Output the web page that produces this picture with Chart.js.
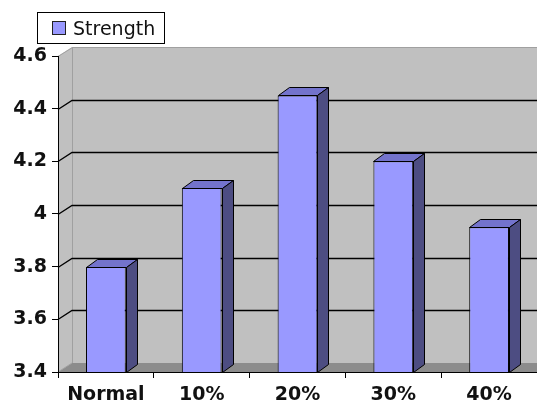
<!DOCTYPE html>
<html>
<head>
<meta charset="utf-8">
<script src="https://cdn.jsdelivr.net/npm/chart.js@4/dist/chart.umd.min.js"></script>
<style>
  html, body { margin: 0; padding: 0; background: #fff; overflow: hidden; }
  #wrap { width: 537px; height: 410px; }
</style>
</head>
<body>
<div id="wrap"><canvas id="c" width="537" height="410"></canvas></div>
<script>
// Strength by mix proportion
const categories = ['Normal', '10%', '20%', '30%', '40%'];
const strength = [3.8, 4.1, 4.45, 4.2, 3.95];
const seriesName = 'Strength';
const yTickValues = [3.4, 3.6, 3.8, 4.0, 4.2, 4.4, 4.6];
const yTickLabels = ['3.4', '3.6', '3.8', '4', '4.2', '4.4', '4.6'];

const FONT = '"DejaVu Sans", sans-serif';
const WALL_DX = 14, WALL_DY = -9;   // depth of the walls
const BAR_DX = 11, BAR_DY = -8;     // depth of each column

// Back wall, side wall, floor and the gridlines on the walls
const wallsPlugin = {
  id: 'walls',
  beforeDraw(chart) {
    const { ctx, chartArea: a, scales: { y } } = chart;
    const L = a.left, R = a.right, T = a.top, B = a.bottom;
    ctx.save();
    // side wall
    ctx.fillStyle = '#c0c0c0';
    ctx.beginPath();
    ctx.moveTo(L, T); ctx.lineTo(L + WALL_DX, T + WALL_DY);
    ctx.lineTo(L + WALL_DX, B + WALL_DY); ctx.lineTo(L, B); ctx.closePath();
    ctx.fill();
    // back wall
    ctx.fillRect(L + WALL_DX, T + WALL_DY, R - L + 20, B - T);
    // floor
    ctx.fillStyle = '#8c8c8c';
    ctx.beginPath();
    ctx.moveTo(L, B); ctx.lineTo(L + WALL_DX, B + WALL_DY);
    ctx.lineTo(R + WALL_DX, B + WALL_DY); ctx.lineTo(R, B); ctx.closePath();
    ctx.fill();
    // wall edges
    ctx.strokeStyle = '#a0a0a0';
    ctx.lineWidth = 1;
    ctx.beginPath();
    ctx.moveTo(L, T + 0.5); ctx.lineTo(L + WALL_DX + 0.5, T + WALL_DY + 0.5);
    ctx.lineTo(R + 20, T + WALL_DY + 0.5);
    ctx.moveTo(L + WALL_DX + 0.5, T + WALL_DY); ctx.lineTo(L + WALL_DX + 0.5, B + WALL_DY);
    ctx.moveTo(L, B); ctx.lineTo(L + WALL_DX, B + WALL_DY);
    ctx.stroke();
    // gridlines
    ctx.strokeStyle = '#000';
    ctx.lineWidth = 1.3;
    yTickValues.forEach(v => {
      if (v <= y.min || v >= y.max) return;
      const py = Math.round(y.getPixelForValue(v)) + 0.5;
      ctx.beginPath();
      ctx.moveTo(L, py);
      ctx.lineTo(L + WALL_DX, py + WALL_DY);
      ctx.lineTo(R + 20, py + WALL_DY);
      ctx.stroke();
    });
    ctx.restore();
  },
  // top and side faces of each column
  afterDatasetsDraw(chart) {
    const { ctx, chartArea: a } = chart;
    const meta = chart.getDatasetMeta(0);
    ctx.save();
    ctx.lineWidth = 1;
    ctx.strokeStyle = '#000';
    ctx.lineJoin = 'miter';
    meta.data.forEach(bar => {
      const { x, y, width, base } = bar.getProps(['x', 'y', 'width', 'base'], true);
      const l = Math.round(x - width / 2) + 0.5, r = Math.round(x + width / 2) + 0.5;
      const t = Math.round(y) + 0.5;
      const b = Math.round(Math.min(base, a.bottom)) + 0.5;
      // top face
      ctx.fillStyle = '#7373cc';
      ctx.beginPath();
      ctx.moveTo(l, t); ctx.lineTo(l + BAR_DX, t + BAR_DY);
      ctx.lineTo(r + BAR_DX, t + BAR_DY); ctx.lineTo(r, t); ctx.closePath();
      ctx.fill(); ctx.stroke();
      // side face
      ctx.fillStyle = '#4d4d82';
      ctx.beginPath();
      ctx.moveTo(r, t); ctx.lineTo(r + BAR_DX, t + BAR_DY);
      ctx.lineTo(r + BAR_DX, b + BAR_DY); ctx.lineTo(r, b); ctx.closePath();
      ctx.fill(); ctx.stroke();
    });
    ctx.restore();
  },
  // boxed legend at the top left
  afterDraw(chart) {
    const { ctx } = chart;
    const ds = chart.data.datasets[0];
    ctx.save();
    ctx.fillStyle = '#fff';
    ctx.fillRect(37, 12, 128, 32);
    ctx.strokeStyle = '#000';
    ctx.lineWidth = 1;
    ctx.strokeRect(37.5, 12.5, 127, 31);
    ctx.fillStyle = ds.backgroundColor;
    ctx.fillRect(52, 21, 14, 14);
    ctx.strokeStyle = '#222';
    ctx.strokeRect(52.5, 21.5, 13, 13);
    ctx.fillStyle = '#111';
    ctx.font = '19px ' + FONT;
    ctx.textBaseline = 'alphabetic';
    ctx.textAlign = 'left';
    ctx.fillText(ds.label, 73, 35);
    ctx.restore();
  }
};

new Chart(document.getElementById('c'), {
  type: 'bar',
  data: {
    labels: categories,
    datasets: [{
      label: seriesName,
      data: strength,
      backgroundColor: '#9999ff',
      borderColor: '#000',
      borderWidth: 1,
      borderSkipped: false,
      categoryPercentage: 1,
      barPercentage: 0.415
    }]
  },
  options: {
    responsive: false,
    devicePixelRatio: 1,
    animation: false,
    layout: { padding: { top: 56, right: 0, left: 0, bottom: 0 } },
    plugins: { legend: { display: false }, tooltip: { enabled: false } },
    scales: {
      x: {
        grid: { display: true, drawOnChartArea: false, color: '#000', tickLength: 6, offset: true },
        border: { display: true, color: '#000', width: 1 },
        ticks: { color: '#111', font: { family: FONT, size: 19, weight: 'bold' }, padding: 6, maxRotation: 0 },
        afterFit(s) { s.height = 38; }
      },
      y: {
        min: 3.4,
        max: 4.6,
        afterBuildTicks(s) { s.ticks = yTickValues.map(v => ({ value: v })); },
        grid: { display: true, drawOnChartArea: false, color: '#000', tickLength: 6 },
        border: { display: true, color: '#000', width: 1 },
        ticks: {
          color: '#111',
          font: { family: FONT, size: 19, weight: 'bold' },
          padding: 5,
          callback: (v, i) => yTickLabels[i]
        },
        afterFit(s) { s.width = 58; }
      }
    }
  },
  plugins: [wallsPlugin]
});
</script>
</body>
</html>
